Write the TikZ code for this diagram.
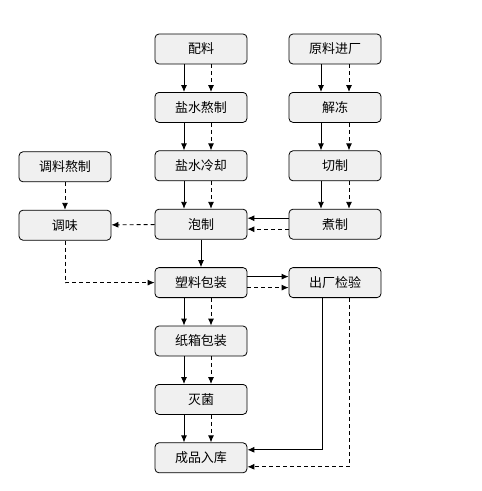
\documentclass[tikz,border=0pt]{standalone}
\usepackage{fontspec}
\setmainfont{Noto Sans CJK SC}
\usetikzlibrary{arrows.meta}

\begin{document}
\begin{tikzpicture}[x=1pt, y=-1pt, node distance={58.4pt},
    main/.style = {draw, line width=0.8pt, rounded corners=4pt, fill=black!6,
        minimum width=92pt, minimum height=30pt, font=\fontsize{13}{15}\selectfont},
    arr/.style = {-{Latex[length=7pt,width=6pt]}, line width=0.9pt},
    dsh/.style = {arr, dash pattern=on 4pt off 3pt}]
            \useasboundingbox (0,0) rectangle (482,491);

            % middle column
            \node[main] (pl) at (201,49) {配料};
            \node[main] (ysa) [below of=pl] {盐水熬制};
            \node[main] (ysl) [below of=ysa] {盐水冷却};
            \node[main] (pz) [below of=ysl] {泡制};
            \node[main] (sl) [below of=pz] {塑料包装};
            \node[main] (zx) [below of=sl] {纸箱包装};
            \node[main] (mj) [below of=zx] {灭菌};
            \node[main] (cp) [below of=mj] {成品入库};

            % right column
            \node[main] (yl) at (335,49) {原料进厂};
            \node[main] (jd) [below of=yl] {解冻};
            \node[main] (qz) [below of=jd] {切制};
            \node[main] (zz) [below of=qz] {煮制};
            \node[main] (cc) [right of=sl, node distance=134pt] {出厂检验};

            % left column
            \node[main] (tl) at (65,166.8) {调料熬制};
            \node[main] (tw) [below of=tl] {调味};

            \foreach \a/\b in {pl/ysa, ysa/ysl, ysl/pz, sl/zx, zx/mj, mj/cp} {
                \draw[arr] ([xshift=-17pt]\a.south) -- ([xshift=-17pt]\b.north);
                \draw[dsh] ([xshift=10pt]\a.south) -- ([xshift=10pt]\b.north);
            }
            \foreach \a/\b in {yl/jd, jd/qz, qz/zz} {
                \draw[arr] ([xshift=-14pt]\a.south) -- ([xshift=-14pt]\b.north);
                \draw[dsh] ([xshift=14pt]\a.south) -- ([xshift=14pt]\b.north);
            }

            \draw[arr] (pz) -- (sl);
            \draw[arr] ([yshift=6pt]zz.west) -- ([yshift=6pt]zz.west -| pz.east);
            \draw[dsh] ([yshift=-5pt]zz.west) -- ([yshift=-5pt]zz.west -| pz.east);

            \draw[dsh] (pz) -- (tw);
            \draw[dsh] (tl) -- (tw);
            \draw[dsh] (tw.south) |- (sl.west);

            \draw[arr] ([yshift=6pt]sl.east) -- ([yshift=6pt]sl.east -| cc.west);
            \draw[dsh] ([yshift=-5pt]sl.east) -- ([yshift=-5pt]sl.east -| cc.west);

            \draw[arr] ([xshift=-13pt]cc.south) |- ([yshift=8pt]cp.east);
            \draw[dsh] ([xshift=14pt]cc.south) |- ([yshift=-9pt]cp.east);
        \end{tikzpicture}
\end{document}
